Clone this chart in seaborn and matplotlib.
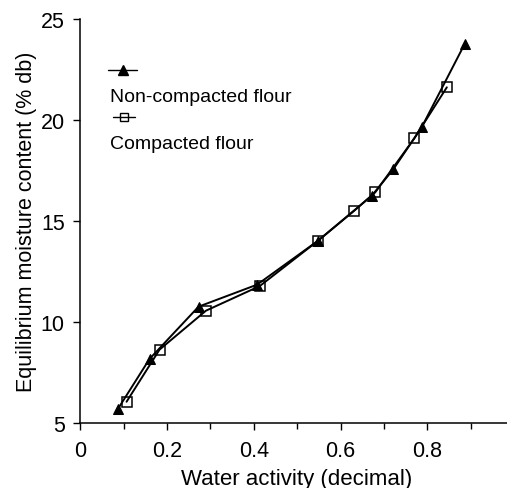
import matplotlib
matplotlib.use("Agg")
import matplotlib.pyplot as plt
import seaborn as sns
import pandas as pd
from matplotlib.ticker import MultipleLocator

# data
aw_noncompacted = [0.087, 0.160, 0.273, 0.408, 0.548, 0.672, 0.722, 0.787, 0.886]
emc_noncompacted = [5.69, 8.17, 10.76, 11.85, 14.02, 16.25, 17.57, 19.64, 23.76]

aw_compacted = [0.107, 0.183, 0.290, 0.414, 0.548, 0.631, 0.680, 0.770, 0.845]
emc_compacted = [6.05, 8.63, 10.56, 11.78, 14.02, 15.50, 16.42, 19.09, 21.62]

x_ticks = [0, 0.2, 0.4, 0.6, 0.8, 1]
x_ticklabels = ["0", "0.2", "0.4", "0.6", "0.8", "1"]
y_ticks = [5, 10, 15, 20, 25]

df_nc = pd.DataFrame({"aw": aw_noncompacted, "emc": emc_noncompacted})
df_c = pd.DataFrame({"aw": aw_compacted, "emc": emc_compacted})

sns.set_style("ticks")
plt.rcParams["font.family"] = ["Liberation Sans", "DejaVu Sans"]
plt.rcParams["text.color"] = "black"
plt.rcParams["axes.labelcolor"] = "black"

fig = plt.figure(figsize=(5.07, 4.89), dpi=100)
ax = fig.add_axes([0.158, 0.133, 0.856, 0.826])

sns.lineplot(data=df_nc, x="aw", y="emc", ax=ax, sort=False, estimator=None,
             color="black", lw=1.4, marker="^", markersize=7,
             markerfacecolor="black", markeredgecolor="black")
sns.lineplot(data=df_c, x="aw", y="emc", ax=ax, sort=False, estimator=None,
             color="black", lw=1.4, marker="s", markersize=6.5,
             markerfacecolor="none", markeredgecolor="black", markeredgewidth=1.1)

ax.set_xlim(0, 1.0)
ax.set_ylim(5, 25)
ax.set_xticks(x_ticks)
ax.set_xticklabels(x_ticklabels)
ax.xaxis.set_minor_locator(MultipleLocator(0.1))
ax.set_yticks(y_ticks)
ax.tick_params(axis="both", which="major", labelsize=15.5, length=5, width=1,
               direction="out", colors="black")
ax.tick_params(axis="x", which="minor", length=4, width=1, direction="out", colors="black")
ax.tick_params(axis="x", pad=7)
ax.tick_params(axis="y", pad=6)

ax.spines["top"].set_visible(False)
ax.spines["right"].set_visible(False)
for s in ["left", "bottom"]:
    ax.spines[s].set_linewidth(1.1)
    ax.spines[s].set_color("black")

ax.set_xlabel("Water activity (decimal)", fontsize=16, labelpad=5, color="black")
ax.set_ylabel("Equilibrium moisture content (% db)", fontsize=15.5, labelpad=3, color="black")

# legend drawn manually: handle on one line, label on the next
tr = ax.transAxes
ax.plot([0.0645, 0.098, 0.131], [0.874, 0.874, 0.874], transform=tr, color="black", lw=1,
        marker="^", markersize=6.5, markevery=[1], clip_on=False)
ax.text(0.07, 0.809, "Non-compacted flour", transform=tr, fontsize=14, va="center", color="black")
ax.plot([0.076, 0.1015, 0.127], [0.757, 0.757, 0.757], transform=tr, color="black", lw=1,
        marker="s", markersize=6, markerfacecolor="none", markevery=[1], clip_on=False)
ax.text(0.07, 0.693, "Compacted flour", transform=tr, fontsize=14, va="center", color="black")

fig.savefig("out.png", dpi=100)
